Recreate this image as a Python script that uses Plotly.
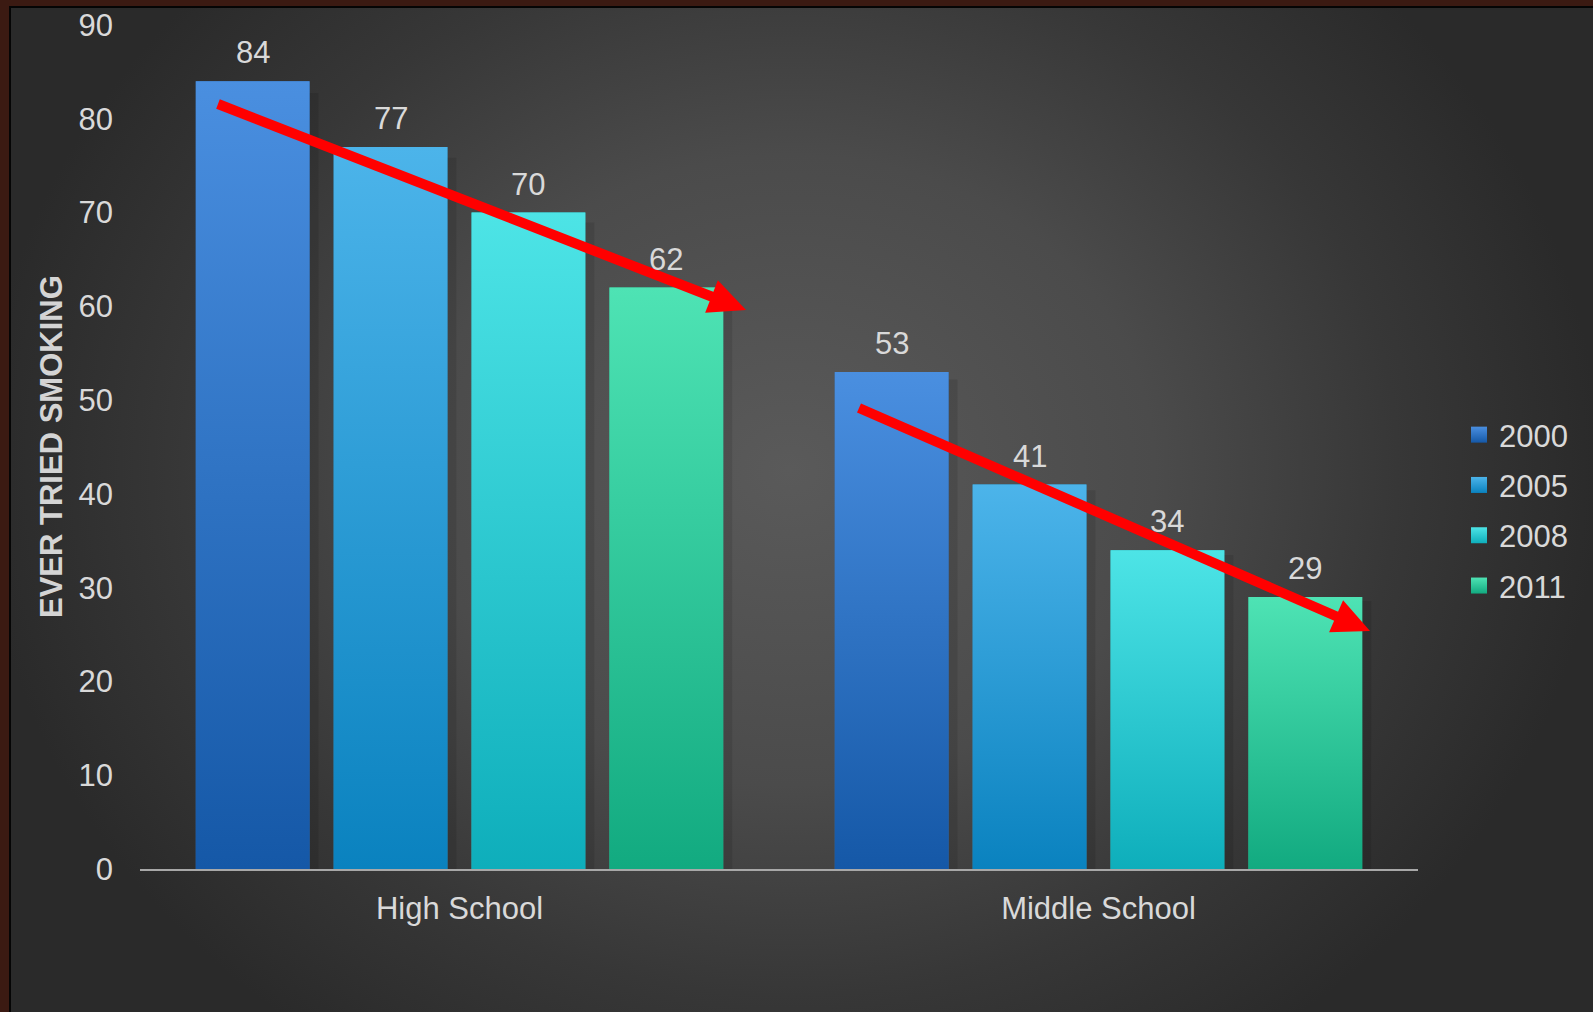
import math
import plotly.graph_objects as go

W, H = 1593, 1012

# ---------------- data ----------------
categories = ["High School", "Middle School"]
years = ["2000", "2005", "2008", "2011"]
v2000 = [84, 53]
v2005 = [77, 41]
v2008 = [70, 34]
v2011 = [62, 29]
y_ticks = [0, 10, 20, 30, 40, 50, 60, 70, 80, 90]
y_title = "EVER TRIED SMOKING"

# ---------------- style ----------------
series = [v2000, v2005, v2008, v2011]
top_colors = ["#4a8fe0", "#4cb4ea", "#4de4e6", "#4ee3b4"]
bottom_colors = ["#1558a7", "#0a82bf", "#0eaebb", "#12aa80"]
mid_colors = ["#2f74c4", "#2b9bd4", "#2ec9d0", "#30c69a"]
FONT = "Liberation Sans, Arial, sans-serif"
TXT = "#d9d9d9"
step = 0.2158
bw = 0.178
px_per_unit_x = 639.0

fig = go.Figure()

# background panel with radial gradient (pixel-space helper axes)
cx, cy, hw, hh = 790, 470, 810, 700
bg_x = [10, cx - hw, 10, 1598, 1598, cx + hw, 1598, 10, 10]
bg_y = [7, cy - hh, 7, 7, 1017, cy + hh, 1017, 1017, 7]
fig.add_trace(go.Scatter(
    x=bg_x, y=bg_y, xaxis="x", yaxis="y", mode="lines", fill="toself",
    line=dict(width=0, simplify=False),
    fillgradient=dict(type="radial",
                      colorscale=[[0, "#5a5a5a"], [0.45, "#4b4b4b"], [0.75, "#373737"], [1, "#2a2a2a"]]),
    hoverinfo="skip", showlegend=False))
fig.add_trace(go.Scatter(
    x=[10, 10, 1600], y=[1020, 7, 7], xaxis="x", yaxis="y", mode="lines",
    line=dict(color="#050505", width=2), hoverinfo="skip", showlegend=False))

# bars
shadow_dx = 9 / px_per_unit_x
for i, (name, vals) in enumerate(zip(years, series)):
    xs = [g + (i - 1.5) * step for g in range(len(categories))]
    fig.add_trace(go.Bar(
        x=xs, y=vals, width=bw, name=name, xaxis="x2", yaxis="y2",
        marker=dict(color=mid_colors[i], line=dict(width=0)),
        showlegend=False, hoverinfo="skip"))
    for xc, v in zip(xs, vals):
        # soft shadow on the right side
        fig.add_trace(go.Scatter(
            x=[xc + bw / 2, xc + bw / 2 + shadow_dx, xc + bw / 2 + shadow_dx, xc + bw / 2, xc + bw / 2],
            y=[0, 0, v * 0.985, v * 0.985, 0], xaxis="x2", yaxis="y2",
            mode="lines", fill="toself", line=dict(width=0),
            fillcolor="rgba(0,0,0,0.10)", hoverinfo="skip", showlegend=False))
        fig.add_trace(go.Scatter(
            x=[xc - bw / 2, xc + bw / 2, xc + bw / 2, xc - bw / 2, xc - bw / 2],
            y=[0, 0, v, v, 0], xaxis="x2", yaxis="y2",
            mode="lines", fill="toself", line=dict(width=0),
            fillgradient=dict(type="vertical",
                              colorscale=[[0, bottom_colors[i]], [1, top_colors[i]]]),
            hoverinfo="skip", showlegend=False))
        fig.add_annotation(
            x=xc, y=v, xref="x2", yref="y2", text=str(v), showarrow=False,
            yanchor="bottom", yshift=9, font=dict(family=FONT, size=31, color=TXT))

# legend entries
for i, name in enumerate(years):
    fig.add_trace(go.Scatter(
        x=[None], y=[None], xaxis="x2", yaxis="y2", mode="markers", name=name,
        legendgroup=name,
        marker=dict(symbol="square", size=18, color=top_colors[i],
                    gradient=dict(type="vertical", color=bottom_colors[i]),
                    line=dict(width=0))))

# arrows (pixel coordinates -> paper)
def P(x, y):
    return x / W, 1 - y / H

def arrow(x0, y0, x1, y1, head_len=37, head_w=35, lw=10):
    dx, dy = x1 - x0, y1 - y0
    L = math.hypot(dx, dy)
    ux, uy = dx / L, dy / L
    nx, ny = -uy, ux
    bx, by = x1 - head_len * ux, y1 - head_len * uy
    a = P(x0, y0)
    b = P(bx + 2 * ux, by + 2 * uy)
    fig.add_shape(type="line", xref="paper", yref="paper",
                  x0=a[0], y0=a[1], x1=b[0], y1=b[1],
                  line=dict(color="#ff0000", width=lw), layer="above")
    p1 = P(x1, y1)
    p2 = P(bx + nx * head_w / 2, by + ny * head_w / 2)
    p3 = P(bx - nx * head_w / 2, by - ny * head_w / 2)
    path = f"M{p1[0]},{p1[1]} L{p2[0]},{p2[1]} L{p3[0]},{p3[1]} Z"
    fig.add_shape(type="path", xref="paper", yref="paper", path=path,
                  fillcolor="#ff0000", line=dict(width=0), layer="above")

arrow(218, 104, 746, 310)
arrow(859, 408, 1370, 631)

# y-axis title
fig.add_annotation(x=51 / W, y=1 - 447 / H, xref="paper", yref="paper",
                   text=y_title, textangle=-90, showarrow=False,
                   xanchor="center", yanchor="middle",
                   font=dict(family=FONT, size=31, color="#d4d4d4", weight="bold"))

fig.update_layout(
    width=W, height=H, autosize=False,
    margin=dict(l=0, r=0, t=0, b=0, pad=0, autoexpand=False),
    paper_bgcolor="#3b1a12", plot_bgcolor="rgba(0,0,0,0)",
    barmode="overlay",
    xaxis=dict(domain=[0, 1], range=[0, W], visible=False, fixedrange=True, automargin=False),
    yaxis=dict(domain=[0, 1], range=[H, 0], visible=False, fixedrange=True, automargin=False),
    xaxis2=dict(domain=[140 / W, 1418 / W], range=[-0.5, 1.5], anchor="y2",
                tickvals=[0, 1], ticktext=categories, showgrid=False, zeroline=False,
                showline=True, linecolor="#a8a8a8", linewidth=2, ticks="",
                ticklabelstandoff=11, automargin=False,
                tickfont=dict(family=FONT, size=31, color=TXT)),
    yaxis2=dict(domain=[1 - 869 / H, 1 - 25 / H], range=[0, 90], anchor="x2",
                tickvals=y_ticks, showgrid=False, zeroline=False, showline=False,
                ticks="", ticklabelstandoff=26, automargin=False,
                tickfont=dict(family=FONT, size=31, color=TXT)),
    showlegend=True,
    legend=dict(x=1459 / W, y=1 - 408 / H, xanchor="left", yanchor="top",
                font=dict(family=FONT, size=31, color=TXT),
                bgcolor="rgba(0,0,0,0)", tracegroupgap=7),
)

fig.write_html("out.html", post_script="document.body.style.margin='0';")
